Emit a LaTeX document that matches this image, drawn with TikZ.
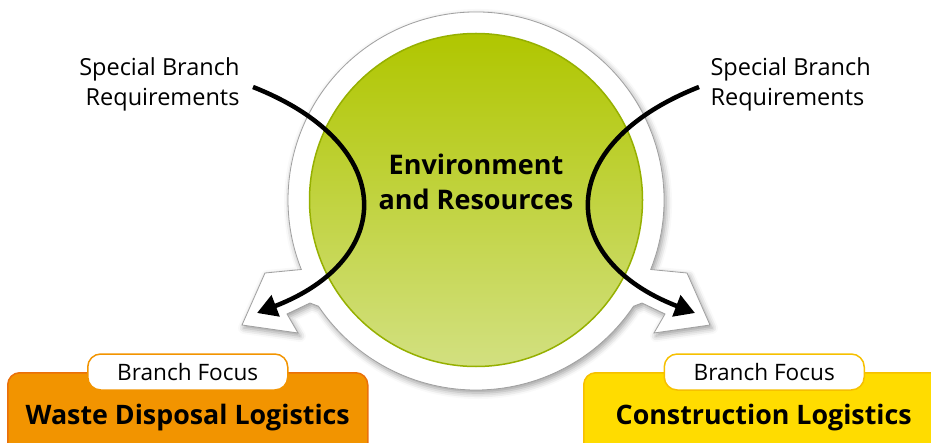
\documentclass[tikz,border=0pt]{standalone}
\usepackage{fontspec}
\setmainfont{Open Sans}
\usetikzlibrary{arrows.meta,positioning,shadows.blur,calc}

\definecolor{envgreen}{RGB}{176,198,0}
\definecolor{envgreenlight}{RGB}{210,224,128}
\definecolor{envgreendark}{RGB}{150,176,0}
\definecolor{wasteorange}{RGB}{242,148,0}
\definecolor{wasteorangedark}{RGB}{234,112,10}
\definecolor{constyellow}{RGB}{255,220,0}
\definecolor{constyellowdark}{RGB}{246,192,0}
\definecolor{ringgray}{RGB}{160,160,160}

\begin{document}
\begin{tikzpicture}[x=1pt, y=-1pt,
  reqlabel/.style={font=\fontsize{23.5}{30}\selectfont},
  bigarrow/.style={line width=4.5pt, -{Triangle[length=20pt, width=22pt]}},
  focusbox/.style={draw, line width=1.5pt, rounded corners=12pt, minimum width=360pt, minimum height=90pt,
    anchor=north west, font=\bfseries\fontsize{26.8}{30}\selectfont},
  focustab/.style={draw, fill=white, line width=1.5pt, rounded corners=13pt, minimum width=200pt, minimum height=36pt,
    inner sep=0pt, font=\fontsize{22.6}{25}\selectfont}]
\useasboundingbox (0,0) rectangle (931,443);

% white ring, the two ends bent out to arrows
\begin{scope}[shift={(476,200)}]
\draw[ringgray, line width=0.8pt, fill=white,
  blur shadow={shadow xshift=2pt, shadow yshift=-3pt, shadow blur radius=6pt, shadow opacity=40}]
  (-234,125) -- (-178,133) -- (-189,114) -- (-166,103) -- (146:190)
  arc[start angle=146, end angle=34, radius=190]
  -- (166,103) -- (189,114) -- (178,133) -- (234,125) -- (211,73) -- (21.7:188)
  arc[start angle=21.7, end angle=-201.7, radius=188] -- (-211,73) -- cycle;
\end{scope}

\node[circle, minimum size=333pt, inner sep=0pt, draw=envgreendark, line width=1.5pt,
  top color=envgreen, bottom color=envgreenlight] (env) at (476,200) {};
\node[font=\bfseries\fontsize{27}{35}\selectfont, align=center] (envtext) at (476,182) {Environment\\and Resources};

\node[reqlabel, align=right, anchor=north east] (reqleft) at (243,54) {Special Branch\\Requirements};
\node[reqlabel, align=left, anchor=north west] (reqright) at (707,54) {Special Branch\\Requirements};

\coordinate (lstart) at (253,87);  \coordinate (ltip) at (257,313);
\coordinate (rstart) at (699,87);  \coordinate (rtip) at (695,313);
\draw[bigarrow] (lstart) .. controls (400,145) and (395,260) .. (ltip);
\draw[bigarrow] (rstart) .. controls (552,145) and (557,260) .. (rtip);

\node[focusbox, draw=wasteorangedark, fill=wasteorange] (waste) at (7,372) {Waste Disposal Logistics};
\node[focusbox, draw=constyellowdark, fill=constyellow] (construct) at (583,372) {Construction Logistics};
\node[focustab, draw=wasteorange] (wastetab) at (waste.north) {Branch Focus};
\node[focustab, draw=constyellowdark] (constructtab) at ([xshift=0.5pt]construct.north) {Branch Focus};
\end{tikzpicture}
\end{document}
